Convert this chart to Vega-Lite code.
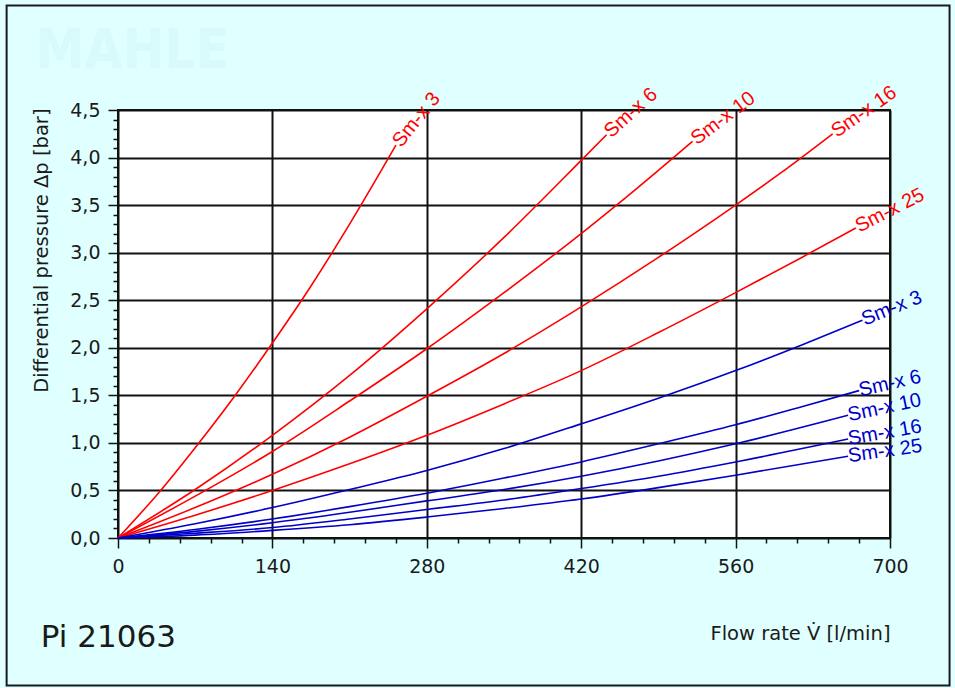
{
  "$schema": "https://vega.github.io/schema/vega-lite/v6.json",
  "width": 772,
  "height": 428,
  "autosize": "none",
  "padding": {"left": 118, "top": 110, "right": 65, "bottom": 150},
  "background": "#e0ffff",
  "config": {
    "view": {"fill": "white", "stroke": "#111111", "strokeWidth": 2},
    "text": {"font": "Liberation Sans", "fontSize": 20},
    "axis": {"domain": false, "labelFont": "DejaVu Sans", "titleFont": "DejaVu Sans", "labelColor": "#1a1a1a", "titleColor": "#1a1a1a", "titleFontWeight": "normal", "labelFontSize": 19, "titleFontSize": 19.5, "gridColor": "#111111", "gridWidth": 2, "tickColor": "#111111", "tickWidth": 1.5, "labelOverlap": false, "labelFlush": false, "labelBound": false}
  },
  "datasets": {
    "curves": [
      {"curve": "upper", "grade": "Sm-x 3", "q": 0, "dp": 0},
      {"curve": "upper", "grade": "Sm-x 3", "q": 35, "dp": 0.45},
      {"curve": "upper", "grade": "Sm-x 3", "q": 70, "dp": 0.95},
      {"curve": "upper", "grade": "Sm-x 3", "q": 105, "dp": 1.48},
      {"curve": "upper", "grade": "Sm-x 3", "q": 140, "dp": 2.05},
      {"curve": "upper", "grade": "Sm-x 3", "q": 175, "dp": 2.65},
      {"curve": "upper", "grade": "Sm-x 3", "q": 210, "dp": 3.3},
      {"curve": "upper", "grade": "Sm-x 3", "q": 252, "dp": 4.13},
      {"curve": "upper", "grade": "Sm-x 6", "q": 0, "dp": 0},
      {"curve": "upper", "grade": "Sm-x 6", "q": 70, "dp": 0.51},
      {"curve": "upper", "grade": "Sm-x 6", "q": 140, "dp": 1.08},
      {"curve": "upper", "grade": "Sm-x 6", "q": 210, "dp": 1.71},
      {"curve": "upper", "grade": "Sm-x 6", "q": 280, "dp": 2.41},
      {"curve": "upper", "grade": "Sm-x 6", "q": 350, "dp": 3.16},
      {"curve": "upper", "grade": "Sm-x 6", "q": 420, "dp": 3.97},
      {"curve": "upper", "grade": "Sm-x 6", "q": 443, "dp": 4.24},
      {"curve": "upper", "grade": "Sm-x 10", "q": 0, "dp": 0},
      {"curve": "upper", "grade": "Sm-x 10", "q": 70, "dp": 0.44},
      {"curve": "upper", "grade": "Sm-x 10", "q": 140, "dp": 0.91},
      {"curve": "upper", "grade": "Sm-x 10", "q": 210, "dp": 1.44},
      {"curve": "upper", "grade": "Sm-x 10", "q": 280, "dp": 1.99},
      {"curve": "upper", "grade": "Sm-x 10", "q": 350, "dp": 2.58},
      {"curve": "upper", "grade": "Sm-x 10", "q": 420, "dp": 3.2},
      {"curve": "upper", "grade": "Sm-x 10", "q": 470, "dp": 3.67},
      {"curve": "upper", "grade": "Sm-x 10", "q": 521, "dp": 4.17},
      {"curve": "upper", "grade": "Sm-x 16", "q": 0, "dp": 0},
      {"curve": "upper", "grade": "Sm-x 16", "q": 70, "dp": 0.32},
      {"curve": "upper", "grade": "Sm-x 16", "q": 140, "dp": 0.67},
      {"curve": "upper", "grade": "Sm-x 16", "q": 210, "dp": 1.06},
      {"curve": "upper", "grade": "Sm-x 16", "q": 280, "dp": 1.49},
      {"curve": "upper", "grade": "Sm-x 16", "q": 350, "dp": 1.94},
      {"curve": "upper", "grade": "Sm-x 16", "q": 420, "dp": 2.43},
      {"curve": "upper", "grade": "Sm-x 16", "q": 490, "dp": 2.95},
      {"curve": "upper", "grade": "Sm-x 16", "q": 560, "dp": 3.5},
      {"curve": "upper", "grade": "Sm-x 16", "q": 600, "dp": 3.83},
      {"curve": "upper", "grade": "Sm-x 16", "q": 648, "dp": 4.25},
      {"curve": "upper", "grade": "Sm-x 25", "q": 0, "dp": 0},
      {"curve": "upper", "grade": "Sm-x 25", "q": 70, "dp": 0.24},
      {"curve": "upper", "grade": "Sm-x 25", "q": 140, "dp": 0.5},
      {"curve": "upper", "grade": "Sm-x 25", "q": 210, "dp": 0.78},
      {"curve": "upper", "grade": "Sm-x 25", "q": 280, "dp": 1.08},
      {"curve": "upper", "grade": "Sm-x 25", "q": 350, "dp": 1.41},
      {"curve": "upper", "grade": "Sm-x 25", "q": 420, "dp": 1.76},
      {"curve": "upper", "grade": "Sm-x 25", "q": 490, "dp": 2.16},
      {"curve": "upper", "grade": "Sm-x 25", "q": 560, "dp": 2.58},
      {"curve": "upper", "grade": "Sm-x 25", "q": 620, "dp": 2.95},
      {"curve": "upper", "grade": "Sm-x 25", "q": 669, "dp": 3.26},
      {"curve": "lower", "grade": "Sm-x 3", "q": 0, "dp": 0},
      {"curve": "lower", "grade": "Sm-x 3", "q": 70, "dp": 0.15},
      {"curve": "lower", "grade": "Sm-x 3", "q": 140, "dp": 0.32},
      {"curve": "lower", "grade": "Sm-x 3", "q": 210, "dp": 0.51},
      {"curve": "lower", "grade": "Sm-x 3", "q": 280, "dp": 0.71},
      {"curve": "lower", "grade": "Sm-x 3", "q": 350, "dp": 0.94},
      {"curve": "lower", "grade": "Sm-x 3", "q": 420, "dp": 1.2},
      {"curve": "lower", "grade": "Sm-x 3", "q": 490, "dp": 1.47},
      {"curve": "lower", "grade": "Sm-x 3", "q": 560, "dp": 1.76},
      {"curve": "lower", "grade": "Sm-x 3", "q": 620, "dp": 2.03},
      {"curve": "lower", "grade": "Sm-x 3", "q": 675, "dp": 2.29},
      {"curve": "lower", "grade": "Sm-x 6", "q": 0, "dp": 0},
      {"curve": "lower", "grade": "Sm-x 6", "q": 70, "dp": 0.09},
      {"curve": "lower", "grade": "Sm-x 6", "q": 140, "dp": 0.2},
      {"curve": "lower", "grade": "Sm-x 6", "q": 210, "dp": 0.33},
      {"curve": "lower", "grade": "Sm-x 6", "q": 280, "dp": 0.47},
      {"curve": "lower", "grade": "Sm-x 6", "q": 350, "dp": 0.63},
      {"curve": "lower", "grade": "Sm-x 6", "q": 420, "dp": 0.8},
      {"curve": "lower", "grade": "Sm-x 6", "q": 490, "dp": 0.99},
      {"curve": "lower", "grade": "Sm-x 6", "q": 560, "dp": 1.19},
      {"curve": "lower", "grade": "Sm-x 6", "q": 620, "dp": 1.38},
      {"curve": "lower", "grade": "Sm-x 6", "q": 672, "dp": 1.55},
      {"curve": "lower", "grade": "Sm-x 10", "q": 0, "dp": 0},
      {"curve": "lower", "grade": "Sm-x 10", "q": 70, "dp": 0.07},
      {"curve": "lower", "grade": "Sm-x 10", "q": 140, "dp": 0.16},
      {"curve": "lower", "grade": "Sm-x 10", "q": 210, "dp": 0.27},
      {"curve": "lower", "grade": "Sm-x 10", "q": 280, "dp": 0.39},
      {"curve": "lower", "grade": "Sm-x 10", "q": 350, "dp": 0.51},
      {"curve": "lower", "grade": "Sm-x 10", "q": 420, "dp": 0.65},
      {"curve": "lower", "grade": "Sm-x 10", "q": 490, "dp": 0.81},
      {"curve": "lower", "grade": "Sm-x 10", "q": 560, "dp": 0.99},
      {"curve": "lower", "grade": "Sm-x 10", "q": 662, "dp": 1.29},
      {"curve": "lower", "grade": "Sm-x 16", "q": 0, "dp": 0},
      {"curve": "lower", "grade": "Sm-x 16", "q": 70, "dp": 0.05},
      {"curve": "lower", "grade": "Sm-x 16", "q": 140, "dp": 0.11},
      {"curve": "lower", "grade": "Sm-x 16", "q": 210, "dp": 0.2},
      {"curve": "lower", "grade": "Sm-x 16", "q": 280, "dp": 0.3},
      {"curve": "lower", "grade": "Sm-x 16", "q": 350, "dp": 0.4},
      {"curve": "lower", "grade": "Sm-x 16", "q": 420, "dp": 0.52},
      {"curve": "lower", "grade": "Sm-x 16", "q": 490, "dp": 0.65},
      {"curve": "lower", "grade": "Sm-x 16", "q": 560, "dp": 0.8},
      {"curve": "lower", "grade": "Sm-x 16", "q": 662, "dp": 1.04},
      {"curve": "lower", "grade": "Sm-x 25", "q": 0, "dp": 0},
      {"curve": "lower", "grade": "Sm-x 25", "q": 70, "dp": 0.03},
      {"curve": "lower", "grade": "Sm-x 25", "q": 140, "dp": 0.08},
      {"curve": "lower", "grade": "Sm-x 25", "q": 210, "dp": 0.14},
      {"curve": "lower", "grade": "Sm-x 25", "q": 280, "dp": 0.22},
      {"curve": "lower", "grade": "Sm-x 25", "q": 350, "dp": 0.31},
      {"curve": "lower", "grade": "Sm-x 25", "q": 420, "dp": 0.41},
      {"curve": "lower", "grade": "Sm-x 25", "q": 490, "dp": 0.53},
      {"curve": "lower", "grade": "Sm-x 25", "q": 560, "dp": 0.66},
      {"curve": "lower", "grade": "Sm-x 25", "q": 662, "dp": 0.86}
    ],
    "labels": [
      {"id": "u3", "curve": "upper", "grade": "Sm-x 3", "q": 252, "dp": 4.13},
      {"id": "u6", "curve": "upper", "grade": "Sm-x 6", "q": 443, "dp": 4.24},
      {"id": "u10", "curve": "upper", "grade": "Sm-x 10", "q": 521, "dp": 4.17},
      {"id": "u16", "curve": "upper", "grade": "Sm-x 16", "q": 648, "dp": 4.25},
      {"id": "u25", "curve": "upper", "grade": "Sm-x 25", "q": 669, "dp": 3.26},
      {"id": "l3", "curve": "lower", "grade": "Sm-x 3", "q": 675, "dp": 2.29},
      {"id": "l6", "curve": "lower", "grade": "Sm-x 6", "q": 672, "dp": 1.55},
      {"id": "l10", "curve": "lower", "grade": "Sm-x 10", "q": 662, "dp": 1.29},
      {"id": "l16", "curve": "lower", "grade": "Sm-x 16", "q": 662, "dp": 1.04},
      {"id": "l25", "curve": "lower", "grade": "Sm-x 25", "q": 662, "dp": 0.86}
    ],
    "notes": [
      {"text": "Pi 21063"}
    ]
  },
  "layer": [
    {
      "data": {"name": "curves"},
      "mark": {"type": "line", "interpolate": "monotone", "strokeWidth": 1.6},
      "encoding": {
        "x": {
          "field": "q", "type": "quantitative",
          "scale": {"domain": [0, 700], "nice": false, "zero": false},
          "axis": {
            "title": "Flow rate V\u0307 [l/min]",
            "titleX": 772, "titleY": 95, "titleAlign": "right", "titleBaseline": "middle", "titleAnchor": "end",
            "tickCount": 200,
            "values": [0, 28, 56, 84, 112, 140, 168, 196, 224, 252, 280, 308, 336, 364, 392, 420, 448, 476, 504, 532, 560, 588, 616, 644, 672, 700],
            "labelExpr": "datum.value % 140 === 0 ? format(datum.value, 'd') : ''",
            "gridOpacity": {"condition": {"test": "datum.value % 140 === 0", "value": 1}, "value": 0},
            "tickSize": {"condition": {"test": "datum.value % 140 === 0", "value": 10}, "value": 5},
            "labelPadding": 9
          }
        },
        "y": {
          "field": "dp", "type": "quantitative",
          "scale": {"domain": [0, 4.5], "nice": false, "zero": false},
          "axis": {
            "title": "Differential pressure  \u0394p [bar]",
            "titleX": -77, "titleY": -2, "titleAlign": "right", "titleBaseline": "middle", "titleAngle": 270,
            "tickCount": 200,
            "values": [0, 0.1, 0.2, 0.3, 0.4, 0.5, 0.6, 0.7, 0.8, 0.9, 1, 1.1, 1.2, 1.3, 1.4, 1.5, 1.6, 1.7, 1.8, 1.9, 2, 2.1, 2.2, 2.3, 2.4, 2.5, 2.6, 2.7, 2.8, 2.9, 3, 3.1, 3.2, 3.3, 3.4, 3.5, 3.6, 3.7, 3.8, 3.9, 4, 4.1, 4.2, 4.3, 4.4, 4.5],
            "labelExpr": "abs(datum.value * 2 - round(datum.value * 2)) < 0.001 ? replace(format(datum.value, '.1f'), '.', ',') : ''",
            "gridOpacity": {"condition": {"test": "abs(datum.value * 2 - round(datum.value * 2)) < 0.001", "value": 1}, "value": 0},
            "tickSize": {"condition": {"test": "abs(datum.value * 2 - round(datum.value * 2)) < 0.001", "value": 10}, "value": 5},
            "labelPadding": 8
          }
        },
        "color": {"field": "curve", "type": "nominal", "scale": {"domain": ["upper", "lower"], "range": ["#ff0000", "#0000c8"]}, "legend": null},
        "detail": {"field": "grade"}
      }
    },
    {
      "data": {"name": "labels"},
      "transform": [{"filter": "datum.id === 'u3'"}],
      "mark": {"type": "text", "angle": -51, "align": "left", "baseline": "middle", "color": "#ff0000", "dx": 1},
      "encoding": {"x": {"field": "q", "type": "quantitative"}, "y": {"field": "dp", "type": "quantitative"}, "text": {"field": "grade"}}
    },
    {
      "data": {"name": "labels"},
      "transform": [{"filter": "datum.id === 'u6'"}],
      "mark": {"type": "text", "angle": -42, "align": "left", "baseline": "middle", "color": "#ff0000", "dx": 1},
      "encoding": {"x": {"field": "q", "type": "quantitative"}, "y": {"field": "dp", "type": "quantitative"}, "text": {"field": "grade"}}
    },
    {
      "data": {"name": "labels"},
      "transform": [{"filter": "datum.id === 'u10'"}],
      "mark": {"type": "text", "angle": -37, "align": "left", "baseline": "middle", "color": "#ff0000", "dx": 1},
      "encoding": {"x": {"field": "q", "type": "quantitative"}, "y": {"field": "dp", "type": "quantitative"}, "text": {"field": "grade"}}
    },
    {
      "data": {"name": "labels"},
      "transform": [{"filter": "datum.id === 'u16'"}],
      "mark": {"type": "text", "angle": -35, "align": "left", "baseline": "middle", "color": "#ff0000", "dx": 1},
      "encoding": {"x": {"field": "q", "type": "quantitative"}, "y": {"field": "dp", "type": "quantitative"}, "text": {"field": "grade"}}
    },
    {
      "data": {"name": "labels"},
      "transform": [{"filter": "datum.id === 'u25'"}],
      "mark": {"type": "text", "angle": -27, "align": "left", "baseline": "middle", "color": "#ff0000", "dx": 1},
      "encoding": {"x": {"field": "q", "type": "quantitative"}, "y": {"field": "dp", "type": "quantitative"}, "text": {"field": "grade"}}
    },
    {
      "data": {"name": "labels"},
      "transform": [{"filter": "datum.id === 'l3'"}],
      "mark": {"type": "text", "angle": -22, "align": "left", "baseline": "middle", "color": "#0000c8", "dx": 0},
      "encoding": {"x": {"field": "q", "type": "quantitative"}, "y": {"field": "dp", "type": "quantitative"}, "text": {"field": "grade"}}
    },
    {
      "data": {"name": "labels"},
      "transform": [{"filter": "datum.id === 'l6'"}],
      "mark": {"type": "text", "angle": -13, "align": "left", "baseline": "middle", "color": "#0000c8", "dx": 0},
      "encoding": {"x": {"field": "q", "type": "quantitative"}, "y": {"field": "dp", "type": "quantitative"}, "text": {"field": "grade"}}
    },
    {
      "data": {"name": "labels"},
      "transform": [{"filter": "datum.id === 'l10'"}],
      "mark": {"type": "text", "angle": -12, "align": "left", "baseline": "middle", "color": "#0000c8", "dx": 0},
      "encoding": {"x": {"field": "q", "type": "quantitative"}, "y": {"field": "dp", "type": "quantitative"}, "text": {"field": "grade"}}
    },
    {
      "data": {"name": "labels"},
      "transform": [{"filter": "datum.id === 'l16'"}],
      "mark": {"type": "text", "angle": -10, "align": "left", "baseline": "middle", "color": "#0000c8", "dx": 0},
      "encoding": {"x": {"field": "q", "type": "quantitative"}, "y": {"field": "dp", "type": "quantitative"}, "text": {"field": "grade"}}
    },
    {
      "data": {"name": "labels"},
      "transform": [{"filter": "datum.id === 'l25'"}],
      "mark": {"type": "text", "angle": -8, "align": "left", "baseline": "middle", "color": "#0000c8", "dx": 0},
      "encoding": {"x": {"field": "q", "type": "quantitative"}, "y": {"field": "dp", "type": "quantitative"}, "text": {"field": "grade"}}
    },
    {
      "data": {"name": "notes"},
      "mark": {"type": "text", "align": "left", "baseline": "middle", "font": "DejaVu Sans", "fontSize": 31, "color": "#1a1a1a"},
      "encoding": {"x": {"datum": -70, "type": "quantitative"}, "y": {"datum": -1.05, "type": "quantitative"}, "text": {"field": "text"}}
    },
    {
      "data": {"values": [{"text": "MAHLE"}]},
      "mark": {"type": "text", "align": "left", "baseline": "middle", "font": "DejaVu Sans Condensed, DejaVu Sans", "fontWeight": "bold", "fontSize": 55, "color": "#d9fafa"},
      "encoding": {"x": {"datum": -75, "type": "quantitative"}, "y": {"datum": 5.12, "type": "quantitative"}, "text": {"field": "text"}}
    },
    {
      "data": {"values": [{"frame": "outer"}]},
      "mark": {"type": "rect", "fill": null, "filled": false, "stroke": "#1a1a1a", "strokeWidth": 2},
      "encoding": {
        "x": {"datum": -101, "type": "quantitative"},
        "x2": {"datum": 754},
        "y": {"datum": 5.6, "type": "quantitative"},
        "y2": {"datum": -1.55}
      }
    }
  ]
}
